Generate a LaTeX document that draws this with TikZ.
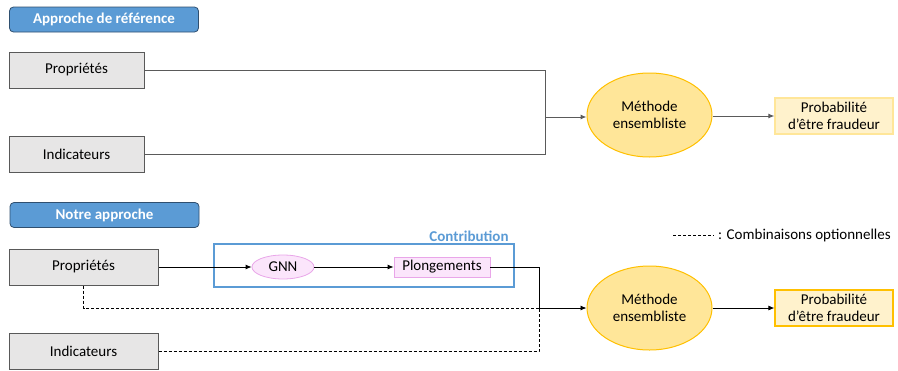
\documentclass[tikz,border=0pt]{standalone}
\usepackage{fontspec}
\setmainfont{Carlito}
\usetikzlibrary{shapes.geometric,arrows.meta}
\definecolor{hdrblue}{HTML}{5B9BD5}
\definecolor{hdrborder}{HTML}{2F4F6F}
\definecolor{boxgray}{HTML}{E7E6E6}
\definecolor{boxborder}{HTML}{595959}
\definecolor{ellfill}{HTML}{FFE699}
\definecolor{ellborder}{HTML}{FFC000}
\definecolor{probfill}{HTML}{FFF2CC}
\definecolor{pinkfill}{HTML}{FBE5FB}
\definecolor{pinkborder}{HTML}{E9A6E9}
\definecolor{linegray}{HTML}{5A5A5A}
\tikzset{
  x=1pt,y=-1pt,
  every node/.style={font=\fontsize{15}{18}\selectfont, text=black},
  hdr/.style={draw=hdrborder, fill=hdrblue, rounded corners=4pt, line width=0.8pt,
    minimum width=189pt, minimum height=25pt, inner sep=0pt,
    font=\fontsize{15}{18}\selectfont\bfseries, text=white},
  inbox/.style={draw=boxborder, fill=boxgray, line width=1pt, minimum height=36pt, inner sep=0pt},
  methell/.style={ellipse, draw=ellborder, fill=ellfill, line width=1pt,
    minimum width=125pt, minimum height=84pt, inner sep=0pt, align=center},
  probbox/.style={fill=probfill, line width=1.2pt, minimum width=118pt, minimum height=36pt,
    inner sep=0pt, align=center, font=\fontsize{15}{17}\selectfont},
  gline/.style={draw=linegray, line width=1pt},
  bline/.style={draw=black, line width=0.8pt},
  tip/.style={-{Latex[length=6pt,width=5pt]}},
}
\begin{document}
\begin{tikzpicture}
\useasboundingbox (0,0) rectangle (898,370);
% ---------- top section ----------
\node[hdr] (h1) at (104,19.5) {Approche de référence};
\node[inbox, minimum width=135pt] (p1) at (76.5,70) {Propriétés};
\node[inbox, minimum width=135pt] (i1) at (76.5,154) {Indicateurs};
\node[methell] (m1) at (649.5,115) {Méthode\\[-1pt]ensembliste};
\node[probbox, draw=ellfill] (r1) at (834,116) {Probabilité\\d’être fraudeur};
\coordinate (j1) at (545,117);
\draw[gline] (p1.east) -| (j1);
\draw[gline] (i1.east) -| (j1);
\draw[gline, tip] (j1) -- (j1 -| m1.west);
\draw[gline, tip] (m1.east |- r1.west) -- (r1.west);
% ---------- bottom section ----------
\node[hdr] (h2) at (104.5,215) {Notre approche};
\node[inbox, minimum width=149pt] (p2) at (83.5,267) {Propriétés};
\node[inbox, minimum width=149pt] (i2) at (83.5,351) {Indicateurs};
\node[draw=hdrblue, line width=2pt, minimum width=300pt, minimum height=43pt] (cb) at (364,265.5) {};
\node[font=\fontsize{15}{18}\selectfont\bfseries, text=hdrblue] (cl) at (469,236) {Contribution};
\node[ellipse, draw=pinkborder, fill=pinkfill, line width=0.8pt, minimum width=62pt, minimum height=24pt, inner sep=0pt] (g) at (283,267) {GNN};
\node[draw=pinkborder, fill=pinkfill, line width=0.8pt, minimum width=96pt, minimum height=20pt, inner sep=0pt] (pl) at (442,267) {Plongements};
\node[methell] (m2) at (649.5,308) {Méthode\\[-1pt]ensembliste};
\node[probbox, draw=ellborder] (r2) at (834,308) {Probabilité\\d’être fraudeur};
\coordinate (j2) at (539,308);
\draw[bline, tip] (p2.east) -- (g.west);
\draw[bline, tip] (g.east) -- (pl.west);
\draw[bline, dashed, dash pattern=on 3pt off 2pt] (p2.south) |- (j2);
\draw[bline, dashed, dash pattern=on 3pt off 2pt] (i2.east) -| (j2);
\draw[bline] (pl.east) -| (j2);
\draw[bline, tip] (j2) -- (m2.west);
\draw[bline, tip] (m2.east) -- (r2.west);
% legend
\coordinate (la) at (673,235);
\coordinate (lb) at (714,235);
\draw[bline, dash pattern=on 3pt off 2pt, line width=0.7pt] (la) -- (lb);
\node[anchor=west, inner sep=0pt] (lt) at (718,235) {: Combinaisons optionnelles};
\end{tikzpicture}
\end{document}
